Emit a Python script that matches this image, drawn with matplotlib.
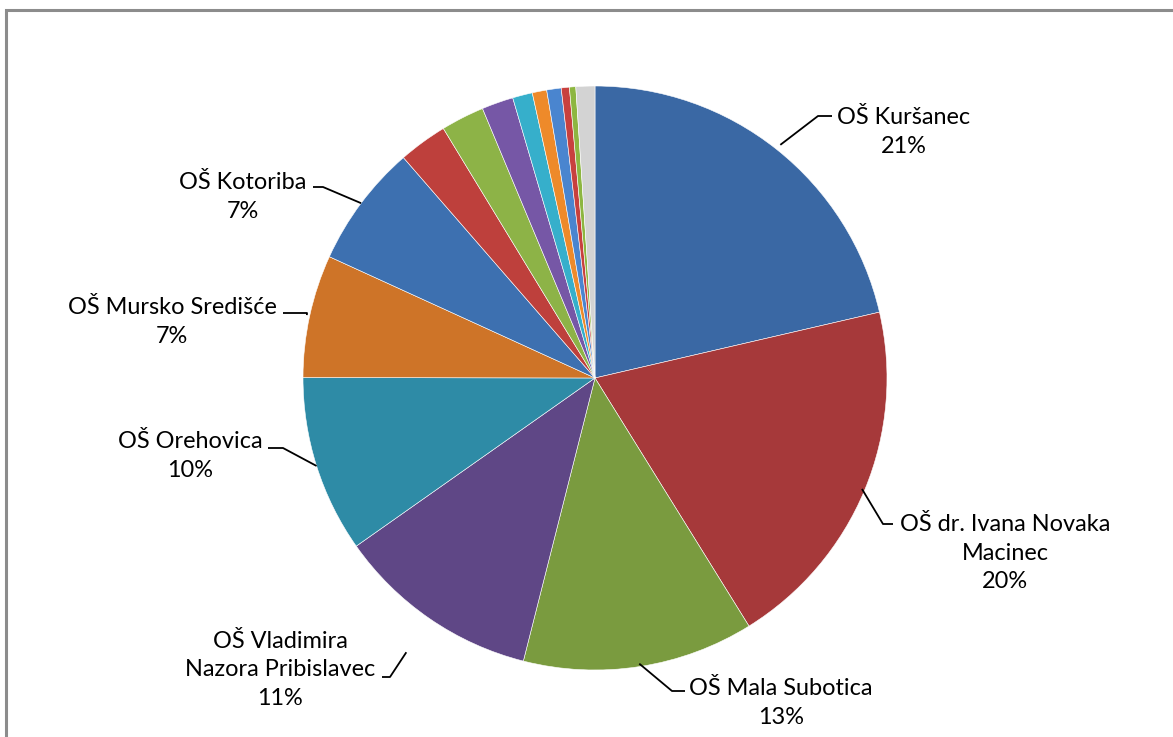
import matplotlib
matplotlib.use('Agg')
import matplotlib.pyplot as plt
from matplotlib.patches import Rectangle
import numpy as np

# share of each school (%), clockwise from 12 o'clock
schools = ['OŠ Kuršanec', 'OŠ dr. Ivana Novaka\nMacinec', 'OŠ Mala Subotica',
           'OŠ Vladimira\nNazora Pribislavec', 'OŠ Orehovica', 'OŠ Mursko Središće',
           'OŠ Kotoriba', '', '', '', '', '', '', '', '', '']
shares = [21.4, 19.8, 12.8, 11.3, 9.8, 6.8, 6.8, 2.7, 2.4, 1.75, 1.1, 0.8, 0.8, 0.45, 0.35, 1.05]
pct_labels = ['21%', '20%', '13%', '11%', '10%', '7%', '7%', '', '', '', '', '', '', '', '', '']

colors = ['#3A68A4', '#A6393A', '#7A9B3F', '#5F4786', '#2E8BA6', '#CE7428',
          '#3D70B0', '#BE403C', '#8DB347', '#7657A6', '#36AFCB', '#EE8A2A',
          '#4A85CF', '#C8403E', '#8DB640', '#D3D3D3']

W, H = 1173, 737
CX, CY, R = 595, 378, 292


def px(x, y):
    # pixel position -> data coords (pie radius = 1)
    return (x - CX) / R, (CY - y) / R


fig = plt.figure(figsize=(W / 100, H / 100), dpi=100)
ax = fig.add_axes([0, 0, 1, 1])

wedges, _ = ax.pie(shares, colors=colors, startangle=90, counterclock=False,
                   radius=1.0, wedgeprops=dict(edgecolor='white', linewidth=0.4))
ax.set_xlim(-CX / R, (W - CX) / R)
ax.set_ylim((CY - H) / R, CY / R)
ax.set_aspect('auto')
ax.axis('off')

# label layout: (leader start radius, elbow px, line end px, text centre px)
layout = {
    0: (1.02, (818, 116), (832, 116), (904, 132)),
    1: (0.99, (883, 524), (893, 524), (1005, 553)),
    2: (0.99, (672, 691), (685, 691), (781, 703)),
    3: (1.14, (390, 677), (382, 677), (280, 670)),
    4: (1.0, (283, 448), (268, 448), (190, 456)),
    5: (1.01, (307, 313), (283, 313), (172, 322)),
    6: (1.0, (323, 187), (313, 187), (243, 197)),
}

for i, (rs, elbow, end, tpos) in layout.items():
    w = wedges[i]
    mid = np.deg2rad((w.theta1 + w.theta2) / 2)
    sx, sy = rs * np.cos(mid), rs * np.sin(mid)
    ex, ey = px(*elbow)
    lx, ly = px(*end)
    ax.plot([sx, ex, lx], [sy, ey, ly], color='black', lw=1.3,
            solid_capstyle='butt', zorder=3)
    tx, ty = px(*tpos)
    ax.text(tx, ty, schools[i] + '\n' + pct_labels[i], ha='center', va='center',
            fontsize=16.9, family='Lato', linespacing=1.44,
            multialignment='center')

# grey chart frame (top and left edges visible)
fig.add_artist(Rectangle((5.5 / W, -0.1), 1.2, (H - 9.5) / H + 0.1,
                         transform=fig.transFigure, fill=False,
                         edgecolor='#8C8C8C', lw=2.2, clip_on=False))

fig.savefig('out.png', dpi=100)
